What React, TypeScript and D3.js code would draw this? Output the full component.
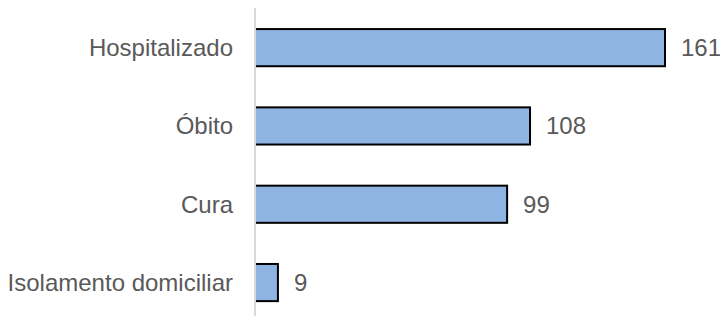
import * as d3 from "d3";
import { useEffect, useRef } from "react";

const categories = ["Hospitalizado", "Óbito", "Cura", "Isolamento domiciliar"];
const values = [161, 108, 99, 9];

export default function App() {
  const svgRef = useRef<SVGSVGElement>(null);

  useEffect(() => {
    if (!svgRef.current) return;
    const width = 720;
    const height = 316;
    const svg = d3.select(svgRef.current);
    svg.selectAll("*").remove();
    svg.attr("width", width).attr("height", height);

    svg.append("rect").attr("width", width).attr("height", height).attr("fill", "#ffffff");

    const x = d3.scaleLinear().domain([0, 161]).range([255, 665]);
    const y = d3
      .scaleBand<string>()
      .domain(categories)
      .range([8.5, 321.7])
      .paddingInner(0.5)
      .paddingOuter(0.25);

    const data = categories.map((c, i) => ({ cat: c, val: values[i] }));
    const font = "'Liberation Sans', Arial, sans-serif";

    // bars
    svg
      .append("g")
      .selectAll("rect")
      .data(data)
      .enter()
      .append("rect")
      .attr("x", x(0))
      .attr("y", (d) => (y(d.cat) as number) + 1)
      .attr("width", (d) => x(d.val) - x(0))
      .attr("height", y.bandwidth() - 2)
      .attr("fill", "#8eb4e3")
      .attr("stroke", "#000000")
      .attr("stroke-width", 2);

    // category axis line
    svg
      .append("line")
      .attr("x1", x(0))
      .attr("x2", x(0))
      .attr("y1", 8)
      .attr("y2", height)
      .attr("stroke", "#d9d9d9")
      .attr("stroke-width", 2);

    // category labels
    svg
      .append("g")
      .selectAll("text")
      .data(data)
      .enter()
      .append("text")
      .attr("x", 233)
      .attr("y", (d) => (y(d.cat) as number) + y.bandwidth() / 2)
      .attr("dy", "0.35em")
      .attr("text-anchor", "end")
      .attr("fill", "#595959")
      .attr("font-size", "24px")
      .attr("font-family", font)
      .text((d) => d.cat);

    // value labels
    svg
      .append("g")
      .selectAll("text")
      .data(data)
      .enter()
      .append("text")
      .attr("x", (d) => x(d.val) + 16)
      .attr("y", (d) => (y(d.cat) as number) + y.bandwidth() / 2)
      .attr("dy", "0.35em")
      .attr("fill", "#595959")
      .attr("font-size", "24px")
      .attr("font-family", font)
      .text((d) => String(d.val));
  }, []);

  return (
    <svg
      ref={svgRef}
      style={{ position: "absolute", left: 0, top: 0, display: "block" }}
    ></svg>
  );
}
